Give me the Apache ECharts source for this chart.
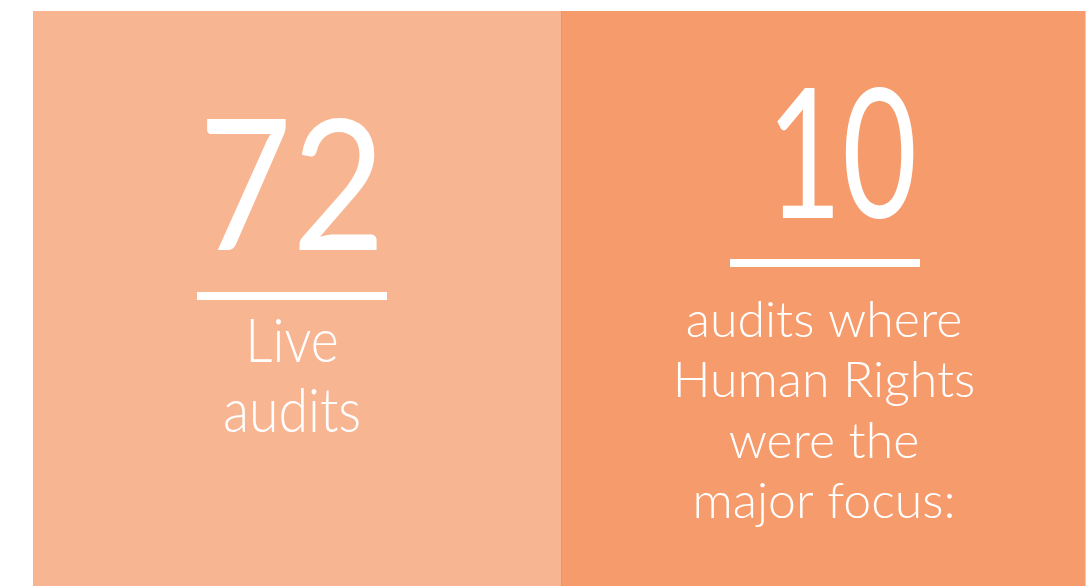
<!DOCTYPE html>
<html><head><meta charset="utf-8">
<script src="https://cdn.jsdelivr.net/npm/echarts@6/dist/echarts.min.js"></script>
<style>html,body{margin:0;padding:0;background:#fff}#c{width:1092px;height:586px}</style>
</head><body><div id="c"></div>
<script>
// data
const panelNames = ['Live audits', 'Human Rights focus'];
const panelValues = [72, 10];
const panelLabels = [['Live', 'audits'], ['audits where', 'Human Rights', 'were the', 'major focus:']];
const panelColors = ['#F8B592', '#F69B6C'];

const chart = echarts.init(document.getElementById('c'), null, {renderer: 'canvas'});
const FONT = 'Lato';
const panels = [
  {x: 33, w: 528, cx: 292, numX: 292, numY: 191, numSize: 183, numScale: 0.88, lineX: 197, lineW: 190, lineY: 292, labSize: 61, labScale: 0.88, labY0: 342, labStep: 70},
  {x: 561, w: 524, cx: 824, numX: 842, numY: 160, numSize: 180, numScale: 0.72, lineX: 730, lineW: 190, lineY: 259, labSize: 50, labScale: 1.0, labY0: 321, labStep: 60.3}
];
const elements = [];
panels.forEach((p, i) => {
  elements.push({type: 'rect', shape: {x: p.x, y: 11, width: p.w, height: 575}, style: {fill: panelColors[i]}, z: 1});
  elements.push({type: 'text', x: p.numX, y: p.numY, scaleX: p.numScale, style: {text: String(panelValues[i]), fill: '#fff', font: '400 ' + p.numSize + 'px ' + FONT, textAlign: 'center', textVerticalAlign: 'middle'}, z: 3});
  elements.push({type: 'rect', shape: {x: p.lineX, y: p.lineY, width: p.lineW, height: 8}, style: {fill: '#fff'}, z: 3});
  panelLabels[i].forEach((t, j) => {
    elements.push({type: 'text', x: p.cx, y: p.labY0 + j * p.labStep, scaleX: p.labScale, style: {text: t, fill: '#fff', font: '300 ' + p.labSize + 'px ' + FONT, textAlign: 'center', textVerticalAlign: 'middle'}, z: 3});
  });
});
elements.push({type: 'line', shape: {x1: 561.5, y1: 11, x2: 561.5, y2: 586}, style: {stroke: '#EE9368', lineWidth: 1}, z: 2});
elements.push({type: 'line', shape: {x1: 1085.5, y1: 11, x2: 1085.5, y2: 586}, style: {stroke: '#F3C9B2', lineWidth: 1}, z: 2});
chart.setOption({
  animation: false,
  backgroundColor: '#fff',
  graphic: {elements: elements}
});
</script></body></html>
